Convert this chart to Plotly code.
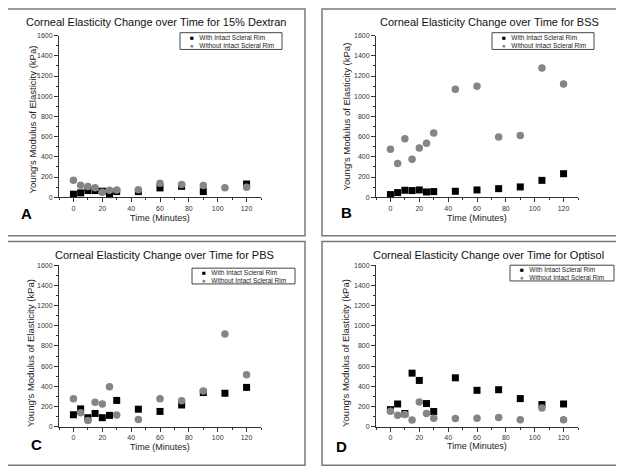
"""Corneal elasticity over time, four storage media, 2x2 Origin-style panels."""

import plotly.graph_objects as go

W, H = 624, 474
# the page body keeps its default 8px margin, so pixel positions are shifted by it
PAGE_MARGIN = 8

TIME = [0, 5, 10, 15, 20, 25, 30, 45, 60, 75, 90, 105, 120]

DEXTRAN_WITH = [30, 43, 66, 66, 60, 26, 56, 56, 92, 108, 56, None, 131]
DEXTRAN_WITHOUT = [167, 118, 105, 95, 50, 69, 72, 75, 138, 125, 115, 95, 100]

BSS_WITH = [26, 46, 69, 66, 72, 52, 56, 59, 72, 85, 102, 167, 233]
BSS_WITHOUT = [475, 334, 580, 377, 488, 534, 636, 1069, 1098, 597, 612, 1279, 1121]

PBS_WITH = [119, 177, 90, 132, 90, 113, 261, 174, 152, 216, 339, 332, 390]
PBS_WITHOUT = [277, 139, 61, 242, 226, 397, 116, 71, 277, 258, 355, 919, 516]

OPTISOL_WITH = [170, 226, 131, 531, 459, 230, 151, 485, 361, 367, 279, 220, 226]
OPTISOL_WITHOUT = [154, 115, 121, 66, 246, 131, 85, 82, 85, 92, 69, 187, 69]

SERIES_NAMES = ["With Intact Scleral Rim", "Without Intact Scleral Rim"]
X_RANGE = [-10, 130]
Y_RANGE = [0, 1600]

FONT = "Liberation Sans, Arial, sans-serif"
GRAY = "#858585"
AXIS = "#333333"


def px(x):
    return (x - PAGE_MARGIN) / W


def py(y):
    return 1 - (y - PAGE_MARGIN) / H


PANELS = [
    dict(title="Corneal Elasticity Change over Time for 15% Dextran", letter="A",
         with_=DEXTRAN_WITH, without=DEXTRAN_WITHOUT,
         frame=(4, 5, 305, 235), plot=(59, 32, 261, 196), title_xy=(156, 18),
         letter_xy=(26, 213), xtitle_xy=(160, 217), ytitle_xy=(32, 117),
         legend=(180, 29, 282, 46)),
    dict(title="Corneal Elasticity Change over Time for BSS", letter="B",
         with_=BSS_WITH, without=BSS_WITHOUT,
         frame=(322, 5, 620, 235), plot=(376, 32, 578, 196), title_xy=(489, 18),
         letter_xy=(346, 212), xtitle_xy=(477, 217), ytitle_xy=(346, 114),
         legend=(492, 29, 594, 46)),
    dict(title="Corneal Elasticity Change over Time for PBS", letter="C",
         with_=PBS_WITH, without=PBS_WITHOUT,
         frame=(4, 241, 305, 468), plot=(59, 265, 261, 429), title_xy=(164, 255),
         letter_xy=(36, 447), xtitle_xy=(160, 450), ytitle_xy=(31, 354),
         legend=(192, 268, 295, 284)),
    dict(title="Corneal Elasticity Change over Time for Optisol", letter="D",
         with_=OPTISOL_WITH, without=OPTISOL_WITHOUT,
         frame=(322, 241, 620, 468), plot=(376, 265, 578, 429), title_xy=(488, 255),
         letter_xy=(341, 449), xtitle_xy=(477, 449), ytitle_xy=(346, 354),
         legend=(510, 265, 614, 281)),
]

fig = go.Figure()
shapes, annotations = [], []

for i, p in enumerate(PANELS, start=1):
    xa, ya = f"x{i if i > 1 else ''}", f"y{i if i > 1 else ''}"
    fig.add_trace(go.Scatter(
        x=TIME, y=p["with_"], mode="markers", name=SERIES_NAMES[0], xaxis=xa, yaxis=ya,
        marker=dict(symbol="square", size=7, color="black"), cliponaxis=False, showlegend=False))
    fig.add_trace(go.Scatter(
        x=TIME, y=p["without"], mode="markers", name=SERIES_NAMES[1], xaxis=xa, yaxis=ya,
        marker=dict(symbol="circle", size=7.5, color=GRAY), cliponaxis=False, showlegend=False))

    x0, y0, x1, y1 = p["plot"]
    common = dict(showline=True, linecolor=AXIS, linewidth=1, ticks="outside", ticklen=4,
                  tickwidth=1, tickcolor=AXIS, showgrid=False, zeroline=False,
                  tickfont=dict(size=7, color=AXIS, family=FONT))
    fig.layout[f"xaxis{i if i > 1 else ''}"] = dict(
        common, domain=[px(x0), px(x1)], range=X_RANGE, tick0=0, dtick=20,
        anchor=ya, minor=dict(ticks="outside", ticklen=2, dtick=10, tickcolor=AXIS))
    fig.layout[f"yaxis{i if i > 1 else ''}"] = dict(
        common, domain=[py(y1), py(y0)], range=Y_RANGE, tick0=0, dtick=200,
        anchor=xa, minor=dict(ticks="outside", ticklen=2, dtick=100, tickcolor=AXIS))

    fx0, fy0, fx1, fy1 = p["frame"]
    shapes.append(dict(type="rect", xref="paper", yref="paper",
                       x0=px(fx0), x1=px(fx1), y0=py(fy1), y1=py(fy0),
                       line=dict(color="#7a7a7a", width=1.5)))

    lx0, ly0, lx1, ly1 = p["legend"]
    shapes.append(dict(type="rect", xref="paper", yref="paper",
                       x0=px(lx0), x1=px(lx1), y0=py(ly1), y1=py(ly0),
                       line=dict(color="#444", width=1), fillcolor="white"))
    legend_text = (f"<span style='color:black'>■</span>   {SERIES_NAMES[0]}<br>"
                   f"<span style='color:{GRAY}'>●</span>   {SERIES_NAMES[1]}")
    annotations.append(dict(text=legend_text, xref="paper", yref="paper",
                            x=px(lx0 + 8), y=py((ly0 + ly1) / 2), xanchor="left", yanchor="middle",
                            align="left", showarrow=False,
                            font=dict(size=6.5, color="#222", family=FONT)))

    tx, ty = p["title_xy"]
    annotations.append(dict(text=p["title"], xref="paper", yref="paper", x=px(tx), y=py(ty),
                            xanchor="center", yanchor="middle", showarrow=False,
                            font=dict(size=11, color="#111", family=FONT)))
    lx, ly = p["letter_xy"]
    annotations.append(dict(text=f"<b>{p['letter']}</b>", xref="paper", yref="paper",
                            x=px(lx), y=py(ly), xanchor="center", yanchor="middle",
                            showarrow=False, font=dict(size=15, color="#000", family=FONT)))
    xx, xy = p["xtitle_xy"]
    annotations.append(dict(text="Time (Minutes)", xref="paper", yref="paper", x=px(xx), y=py(xy),
                            xanchor="center", yanchor="middle", showarrow=False,
                            font=dict(size=9, color="#222", family=FONT)))
    yx, yy = p["ytitle_xy"]
    annotations.append(dict(text="Young's Modulus of Elasticity (kPa)", xref="paper", yref="paper",
                            x=px(yx), y=py(yy), xanchor="center", yanchor="middle",
                            textangle=-90, showarrow=False,
                            font=dict(size=9.5, color="#222", family=FONT)))

fig.update_layout(
    width=W, height=H, margin=dict(l=0, r=0, t=0, b=0),
    paper_bgcolor="white", plot_bgcolor="white",
    font=dict(family=FONT), showlegend=False,
    shapes=shapes, annotations=annotations,
)

fig.write_html("out.html")
